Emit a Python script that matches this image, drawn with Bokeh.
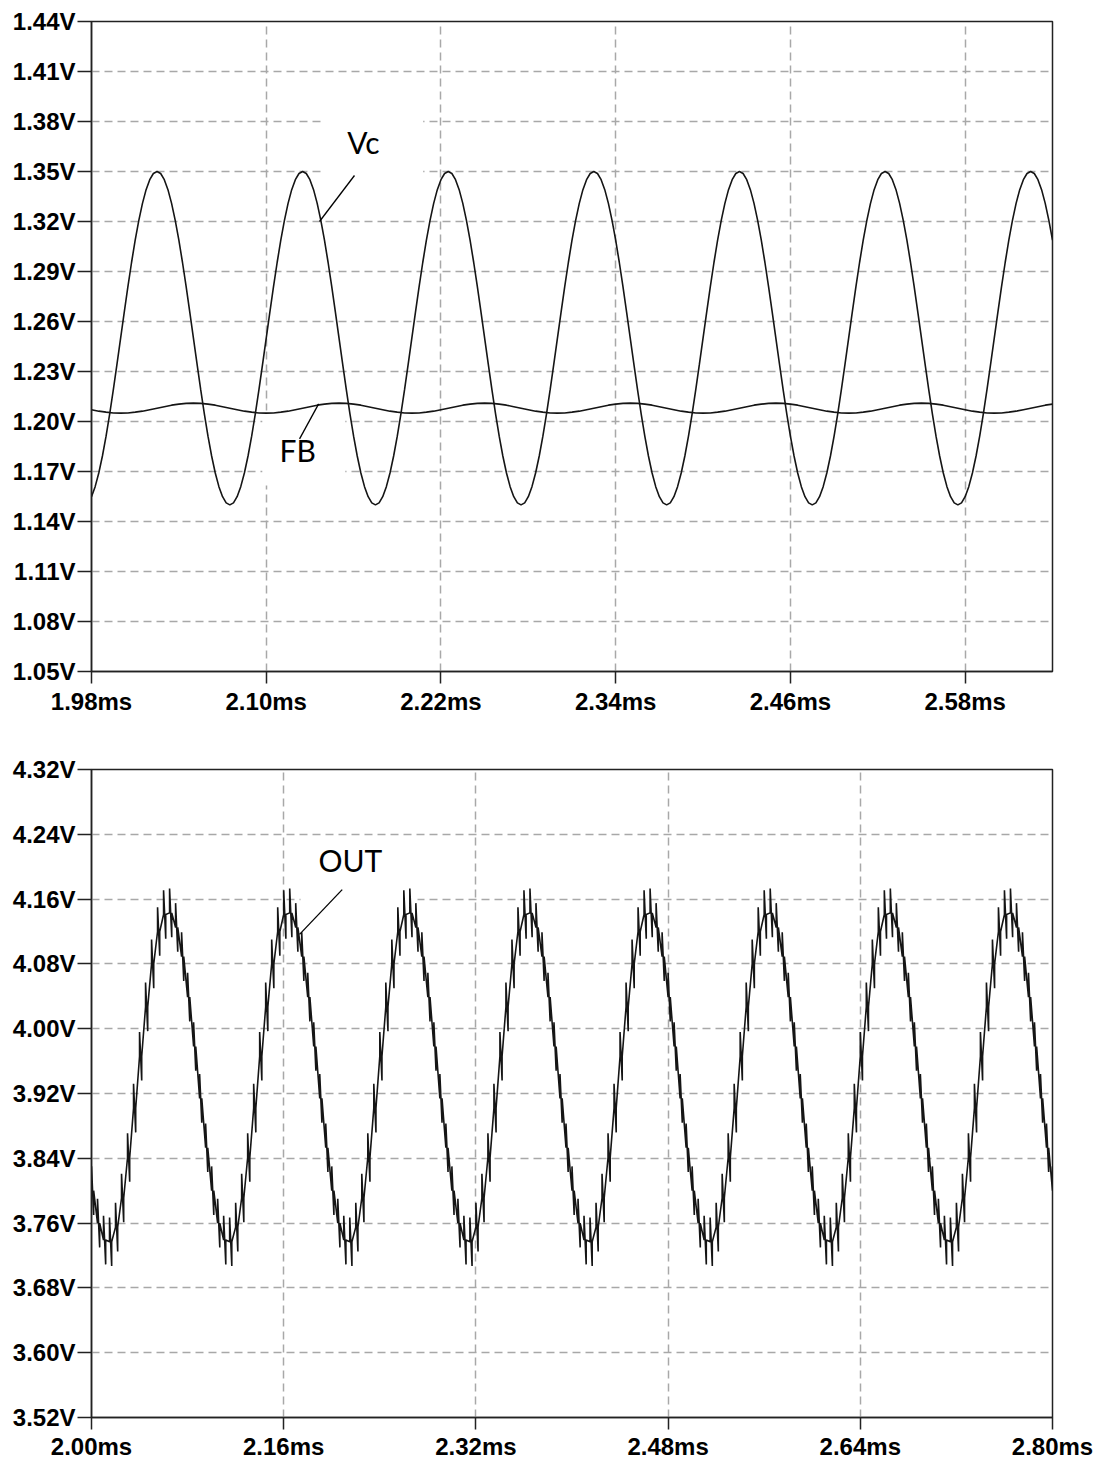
from bokeh.plotting import figure
from bokeh.layouts import column
from bokeh.models import (Label, BoxAnnotation, Arrow, PrintfTickFormatter,
                          FixedTicker, Range1d)
from bokeh.embed import file_html
from bokeh.resources import INLINE
import numpy as np

# ---------------- data ----------------
# Top plot: Vc sampled every 0.0025 ms from 1.98 ms
VC_START = 1.98
VC_STEP = 0.0025
VC = [
    1.1549, 1.1609, 1.1691, 1.1793, 1.1912, 1.2046, 1.2191, 1.2344, 1.2500,
    1.2656, 1.2809, 1.2954, 1.3088, 1.3207, 1.3309, 1.3391, 1.3451, 1.3488,
    # 2.025 ms
    1.3500, 1.3488, 1.3451, 1.3391, 1.3309, 1.3207, 1.3088, 1.2954, 1.2809, 1.2656,
    1.2500, 1.2344, 1.2191, 1.2046, 1.1912, 1.1793, 1.1691, 1.1609, 1.1549, 1.1512,
    1.1500, 1.1512, 1.1549, 1.1609, 1.1691, 1.1793, 1.1912, 1.2046, 1.2191, 1.2344,
    1.2500, 1.2656, 1.2809, 1.2954, 1.3088, 1.3207, 1.3309, 1.3391, 1.3451, 1.3488,
    # 2.125 ms
    1.3500, 1.3488, 1.3451, 1.3391, 1.3309, 1.3207, 1.3088, 1.2954, 1.2809, 1.2656,
    1.2500, 1.2344, 1.2191, 1.2046, 1.1912, 1.1793, 1.1691, 1.1609, 1.1549, 1.1512,
    1.1500, 1.1512, 1.1549, 1.1609, 1.1691, 1.1793, 1.1912, 1.2046, 1.2191, 1.2344,
    1.2500, 1.2656, 1.2809, 1.2954, 1.3088, 1.3207, 1.3309, 1.3391, 1.3451, 1.3488,
    # 2.225 ms
    1.3500, 1.3488, 1.3451, 1.3391, 1.3309, 1.3207, 1.3088, 1.2954, 1.2809, 1.2656,
    1.2500, 1.2344, 1.2191, 1.2046, 1.1912, 1.1793, 1.1691, 1.1609, 1.1549, 1.1512,
    1.1500, 1.1512, 1.1549, 1.1609, 1.1691, 1.1793, 1.1912, 1.2046, 1.2191, 1.2344,
    1.2500, 1.2656, 1.2809, 1.2954, 1.3088, 1.3207, 1.3309, 1.3391, 1.3451, 1.3488,
    # 2.325 ms
    1.3500, 1.3488, 1.3451, 1.3391, 1.3309, 1.3207, 1.3088, 1.2954, 1.2809, 1.2656,
    1.2500, 1.2344, 1.2191, 1.2046, 1.1912, 1.1793, 1.1691, 1.1609, 1.1549, 1.1512,
    1.1500, 1.1512, 1.1549, 1.1609, 1.1691, 1.1793, 1.1912, 1.2046, 1.2191, 1.2344,
    1.2500, 1.2656, 1.2809, 1.2954, 1.3088, 1.3207, 1.3309, 1.3391, 1.3451, 1.3488,
    # 2.425 ms
    1.3500, 1.3488, 1.3451, 1.3391, 1.3309, 1.3207, 1.3088, 1.2954, 1.2809, 1.2656,
    1.2500, 1.2344, 1.2191, 1.2046, 1.1912, 1.1793, 1.1691, 1.1609, 1.1549, 1.1512,
    1.1500, 1.1512, 1.1549, 1.1609, 1.1691, 1.1793, 1.1912, 1.2046, 1.2191, 1.2344,
    1.2500, 1.2656, 1.2809, 1.2954, 1.3088, 1.3207, 1.3309, 1.3391, 1.3451, 1.3488,
    # 2.525 ms
    1.3500, 1.3488, 1.3451, 1.3391, 1.3309, 1.3207, 1.3088, 1.2954, 1.2809, 1.2656,
    1.2500, 1.2344, 1.2191, 1.2046, 1.1912, 1.1793, 1.1691, 1.1609, 1.1549, 1.1512,
    1.1500, 1.1512, 1.1549, 1.1609, 1.1691, 1.1793, 1.1912, 1.2046, 1.2191, 1.2344,
    1.2500, 1.2656, 1.2809, 1.2954, 1.3088, 1.3207, 1.3309, 1.3391, 1.3451, 1.3488,
    # 2.625 ms
    1.3500, 1.3488, 1.3451, 1.3391, 1.3309, 1.3207, 1.3088,
]
# FB sampled every 0.005 ms from 1.98 ms
FB_START = 1.98
FB_STEP = 0.005
FB = [
    1.2071, 1.2062, 1.2056, 1.2051, 1.2050, 1.2051, 1.2056, 1.2062, 1.2071,
    1.2080, 1.2089, 1.2098, 1.2104, 1.2109,
    1.2110, 1.2109, 1.2104, 1.2098, 1.2089, 1.2080, 1.2071, 1.2062, 1.2056, 1.2051,
    1.2050, 1.2051, 1.2056, 1.2062, 1.2071, 1.2080, 1.2089, 1.2098, 1.2104, 1.2109,
    1.2110, 1.2109, 1.2104, 1.2098, 1.2089, 1.2080, 1.2071, 1.2062, 1.2056, 1.2051,
    1.2050, 1.2051, 1.2056, 1.2062, 1.2071, 1.2080, 1.2089, 1.2098, 1.2104, 1.2109,
    1.2110, 1.2109, 1.2104, 1.2098, 1.2089, 1.2080, 1.2071, 1.2062, 1.2056, 1.2051,
    1.2050, 1.2051, 1.2056, 1.2062, 1.2071, 1.2080, 1.2089, 1.2098, 1.2104, 1.2109,
    1.2110, 1.2109, 1.2104, 1.2098, 1.2089, 1.2080, 1.2071, 1.2062, 1.2056, 1.2051,
    1.2050, 1.2051, 1.2056, 1.2062, 1.2071, 1.2080, 1.2089, 1.2098, 1.2104, 1.2109,
    1.2110, 1.2109, 1.2104, 1.2098, 1.2089, 1.2080, 1.2071, 1.2062, 1.2056, 1.2051,
    1.2050, 1.2051, 1.2056, 1.2062, 1.2071, 1.2080, 1.2089, 1.2098, 1.2104, 1.2109,
    1.2110, 1.2109, 1.2104, 1.2098, 1.2089, 1.2080, 1.2071, 1.2062, 1.2056, 1.2051,
    1.2050, 1.2051, 1.2056, 1.2062, 1.2071, 1.2080, 1.2089, 1.2098, 1.2104,
]
X1_TICKS = [1.98, 2.10, 2.22, 2.34, 2.46, 2.58]
Y1_TICKS = [1.05, 1.08, 1.11, 1.14, 1.17, 1.20, 1.23, 1.26, 1.29, 1.32,
            1.35, 1.38, 1.41, 1.44]

# Bottom plot: OUT at each switching instant (every 0.005 ms from 2.00 ms)
OUT_START = 2.00
OUT_STEP = 0.005
OUT = [
    3.800, 3.760, 3.739, 3.737, 3.755, 3.791, 3.841, 3.902, 3.966, 4.027,
    4.080, 4.120, 4.141, 4.143, 4.125, 4.089, 4.039, 3.978, 3.914, 3.853,
    3.800, 3.760, 3.739, 3.737, 3.755, 3.791, 3.841, 3.902, 3.966, 4.027,
    4.080, 4.120, 4.141, 4.143, 4.125, 4.089, 4.039, 3.978, 3.914, 3.853,
    3.800, 3.760, 3.739, 3.737, 3.755, 3.791, 3.841, 3.902, 3.966, 4.027,
    4.080, 4.120, 4.141, 4.143, 4.125, 4.089, 4.039, 3.978, 3.914, 3.853,
    3.800, 3.760, 3.739, 3.737, 3.755, 3.791, 3.841, 3.902, 3.966, 4.027,
    4.080, 4.120, 4.141, 4.143, 4.125, 4.089, 4.039, 3.978, 3.914, 3.853,
    3.800, 3.760, 3.739, 3.737, 3.755, 3.791, 3.841, 3.902, 3.966, 4.027,
    4.080, 4.120, 4.141, 4.143, 4.125, 4.089, 4.039, 3.978, 3.914, 3.853,
    3.800, 3.760, 3.739, 3.737, 3.755, 3.791, 3.841, 3.902, 3.966, 4.027,
    4.080, 4.120, 4.141, 4.143, 4.125, 4.089, 4.039, 3.978, 3.914, 3.853,
    3.800, 3.760, 3.739, 3.737, 3.755, 3.791, 3.841, 3.902, 3.966, 4.027,
    4.080, 4.120, 4.141, 4.143, 4.125, 4.089, 4.039, 3.978, 3.914, 3.853,
    3.800, 3.760, 3.739, 3.737, 3.755, 3.791, 3.841, 3.902, 3.966, 4.027,
    4.080, 4.120, 4.141, 4.143, 4.125, 4.089, 4.039, 3.978, 3.914, 3.853,
    3.800,
]
SPIKE_UP = 0.030      # switching spike above the curve (V)
SPIKE_DOWN = 0.030    # switching spike below the curve (V)
SPIKE_WIDTH = 0.0018  # ms between the two edges of a spike
X2_TICKS = [2.00, 2.16, 2.32, 2.48, 2.64, 2.80]
Y2_TICKS = [3.52, 3.60, 3.68, 3.76, 3.84, 3.92, 4.00, 4.08, 4.16, 4.24, 4.32]

# ---------------- derived series ----------------
t_vc = VC_START + VC_STEP * np.arange(len(VC))
t_fb = FB_START + FB_STEP * np.arange(len(FB))
t_out = OUT_START + OUT_STEP * np.arange(len(OUT))
out_x, out_y = [], []
for t, v in zip(t_out, OUT):
    out_x += [t, t, t + SPIKE_WIDTH, t + SPIKE_WIDTH]
    out_y += [v, v + SPIKE_UP, v - SPIKE_DOWN, v]

TRACE = "#151515"
GRID = "#a8a8a8"


def style(p, xticks, yticks, x_standoff):
    p.xaxis.ticker = FixedTicker(ticks=xticks)
    p.yaxis.ticker = FixedTicker(ticks=yticks)
    p.xaxis.formatter = PrintfTickFormatter(format="%.2fms")
    p.yaxis.formatter = PrintfTickFormatter(format="%.2fV")
    for ax in p.axis:
        ax.major_label_text_font = "Liberation Sans"
        ax.major_label_text_font_style = "bold"
        ax.major_label_text_font_size = "24px"
        ax.major_label_text_color = "black"
        ax.axis_line_color = "#222222"
        ax.axis_line_width = 1.5
        ax.major_tick_line_color = "#222222"
        ax.major_tick_line_width = 1.5
        ax.minor_tick_line_color = None
        ax.major_tick_in = 0
    p.yaxis.major_tick_out = 14
    p.yaxis.major_label_standoff = 2
    p.xaxis.major_tick_out = 12
    p.xaxis.major_label_standoff = x_standoff
    p.grid.grid_line_color = GRID
    p.grid.grid_line_dash = "8 5"
    p.grid.grid_line_width = 1.5
    p.outline_line_color = "#222222"
    p.outline_line_width = 1.5
    p.background_fill_color = "white"
    p.border_fill_color = "white"


LABEL_FONT = "Lato"
LABEL_SIZE = "30px"


def note(p, x, y, text):
    p.add_layout(Label(x=x, y=y, text=text, text_font=LABEL_FONT,
                       text_font_size=LABEL_SIZE, text_color="black",
                       text_baseline="alphabetic", text_align="left"))


def blank(p, left, right, bottom, top):
    p.add_layout(BoxAnnotation(left=left, right=right, bottom=bottom, top=top,
                               fill_color="white", fill_alpha=1.0,
                               line_color=None, level="underlay"))


def leader(p, x0, y0, x1, y1, width=1.3):
    p.add_layout(Arrow(end=None, x_start=x0, y_start=y0, x_end=x1, y_end=y1,
                       line_color="black", line_width=width))


# ---------------- top plot ----------------
p1 = figure(width=1100, height=745, output_backend="svg", toolbar_location=None,
            x_range=Range1d(1.98, 2.64), y_range=Range1d(1.05, 1.44),
            min_border_left=91, min_border_right=47, min_border_top=21,
            min_border_bottom=74)
style(p1, X1_TICKS, Y1_TICKS, 4)

blank(p1, 2.1392, 2.2078, 1.3434, 1.3914)
blank(p1, 2.0973, 2.1543, 1.1616, 1.2066)

p1.line(t_vc, VC, line_color=TRACE, line_width=1.6)
p1.line(t_fb, FB, line_color=TRACE, line_width=1.6)

leader(p1, 2.1606, 1.3476, 2.1366, 1.3200)
leader(p1, 2.1229, 1.1896, 2.1360, 1.2106)
note(p1, 2.1556, 1.3680, "Vc")
note(p1, 2.1092, 1.1832, "FB")
# tiny cut-off strokes of the trace titles above the frame
leader(p1, 2.1275, 1.4514, 2.1292, 1.4484, 1.6)
leader(p1, 2.1755, 1.4514, 2.1742, 1.4484, 1.6)
leader(p1, 2.4575, 1.4514, 2.4592, 1.4484, 1.6)
leader(p1, 2.5035, 1.4514, 2.5021, 1.4484, 1.6)

# ---------------- bottom plot ----------------
p2 = figure(width=1100, height=717, output_backend="svg", toolbar_location=None,
            x_range=Range1d(2.00, 2.80), y_range=Range1d(3.52, 4.32),
            min_border_left=91, min_border_right=48, min_border_top=24,
            min_border_bottom=42)
style(p2, X2_TICKS, Y2_TICKS, 3)

blank(p2, 2.174, 2.2714, 4.1532, 4.227)

p2.line(out_x, out_y, line_color=TRACE, line_width=1.6)

leader(p2, 2.2087, 4.1717, 2.1732, 4.1164)
note(p2, 2.189, 4.2077, "OUT")
leader(p2, 2.3596, 4.3486, 2.3617, 4.3425, 1.6)
leader(p2, 2.4362, 4.3486, 2.4345, 4.3425, 1.6)

layout = column(p1, p2, spacing=0)
open("out.html", "w").write(file_html(layout, INLINE))
